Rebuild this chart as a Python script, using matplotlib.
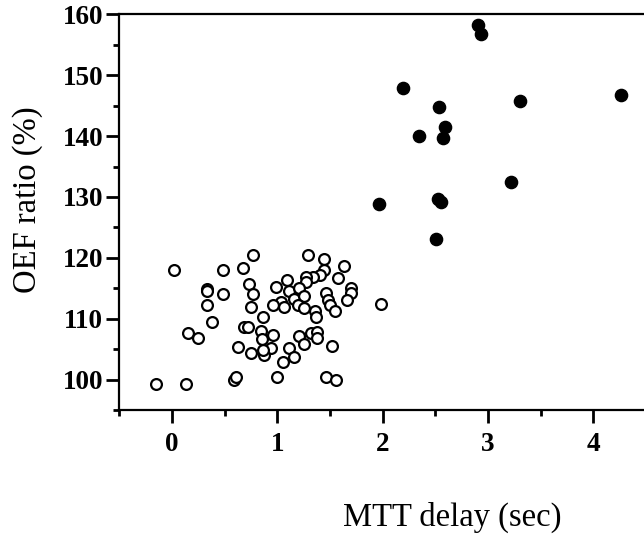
import numpy as np
import matplotlib
matplotlib.use('Agg')
import matplotlib.pyplot as plt
from matplotlib.ticker import MultipleLocator

# open circles (low MTT delay group)
open_x = [0.02, 0.48, 0.67, 0.77, 0.33, 0.33, 0.48, 0.73, 0.77, 0.33,
          0.75, 0.38, 0.68, 0.72, 0.15, 0.25, 0.63, 0.75, -0.15, 0.13,
          0.59, 0.61,
          1.29, 1.44, 1.63, 1.44, 1.40, 1.34, 1.27, 1.27, 1.58, 1.09,
          0.99, 1.11, 1.21, 1.46, 1.70, 1.70, 1.16, 1.25, 1.03, 1.48,
          1.50, 1.66, 0.96, 1.06, 1.20, 1.25, 1.36, 1.55, 1.37, 0.86,
          1.98,
          0.84, 0.96, 1.21, 1.32, 1.38, 1.38, 0.85, 1.25, 1.52, 0.94,
          1.11, 0.87, 0.86, 1.16, 1.05, 1.00, 1.46, 1.56]
open_y = [118.0, 118.0, 118.4, 120.5, 114.9, 114.5, 114.1, 115.7, 114.1, 112.3,
          112.0, 109.5, 108.7, 108.7, 107.6, 106.8, 105.4, 104.3, 99.3, 99.3,
          100.0, 100.4,
          120.5, 119.8, 118.7, 118.0, 117.1, 116.8, 116.9, 116.1, 116.7, 116.4,
          115.2, 114.5, 115.0, 114.2, 115.0, 114.2, 113.3, 113.8, 112.8, 113.1,
          112.3, 113.1, 112.3, 112.0, 112.3, 111.8, 111.3, 111.2, 110.2, 110.2,
          112.4,
          108.0, 107.3, 107.1, 107.7, 107.8, 106.9, 106.6, 105.9, 105.5, 105.2,
          105.2, 104.1, 104.8, 103.7, 102.9, 100.4, 100.4, 100.0]

# filled circles (high MTT delay group)
filled_x = [2.90, 2.93, 2.19, 2.53, 3.30, 4.26, 2.59, 2.34, 2.57, 3.22,
            1.96, 2.52, 2.55, 2.51]
filled_y = [158.2, 156.7, 147.9, 144.7, 145.8, 146.8, 141.5, 140.0, 139.7, 132.5,
            128.9, 129.6, 129.2, 123.1]

xticks = [0, 1, 2, 3, 4]
yticks = [100, 110, 120, 130, 140, 150, 160]

plt.rcParams['font.family'] = ['Liberation Serif', 'DejaVu Serif']

fig = plt.figure(figsize=(6.44, 5.34), dpi=100)
ax = fig.add_axes([0.1853, 0.2322, 0.8147, 0.741])

ax.plot(open_x, open_y, 'o', ms=7.8, mfc='white', mec='black', mew=1.6,
        linestyle='none', clip_on=False)
ax.plot(filled_x, filled_y, 'o', ms=8.8, mfc='black', mec='black', mew=1.0,
        linestyle='none', clip_on=False)

ax.set_xlim(-0.5, 4.48)
ax.set_ylim(95, 160)
ax.set_xticks(xticks)
ax.set_yticks(yticks)
ax.xaxis.set_minor_locator(MultipleLocator(0.5))
ax.yaxis.set_minor_locator(MultipleLocator(5))

ax.spines['right'].set_visible(False)
for s in ['left', 'bottom', 'top']:
    ax.spines[s].set_linewidth(1.6)

ax.tick_params(which='major', length=9.5, width=2.0, direction='out')
ax.tick_params(which='minor', length=4.5, width=2.0, direction='out')
ax.tick_params(axis='y', which='major', pad=2)
ax.tick_params(axis='x', which='major', pad=6)
ax.tick_params(top=False, right=False, which='both')

for lab in ax.get_xticklabels() + ax.get_yticklabels():
    lab.set_fontsize(19.5)
    lab.set_fontweight('bold')

fig.text(452 / 644, 1 - 526 / 534, 'MTT delay (sec)', fontsize=23.5,
         ha='center', va='baseline')
fig.text(28 / 644, 1 - 200 / 534, 'OEF ratio (%)', fontsize=23.5,
         rotation=90, ha='center', va='center')

plt.savefig('out.png', dpi=100)
plt.close()
